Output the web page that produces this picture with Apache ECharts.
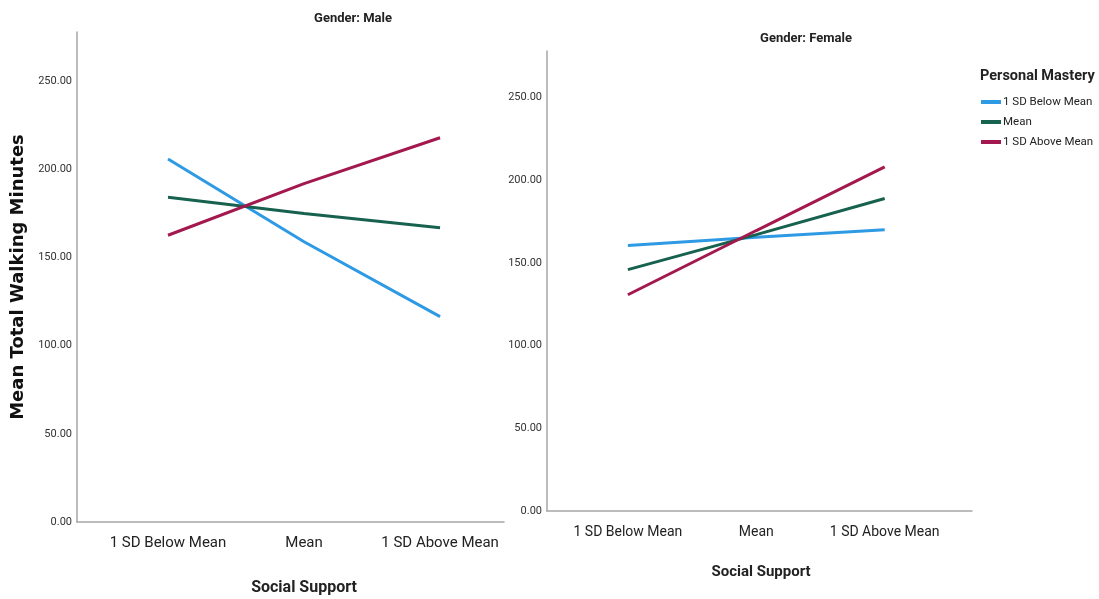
<!DOCTYPE html>
<html>
<head>
<meta charset="utf-8">
<script src="https://cdn.jsdelivr.net/npm/echarts@6/dist/echarts.min.js"></script>
<style>
  html, body { margin: 0; padding: 0; background: #fff; }
  #chart { width: 1099px; height: 599px; }
</style>
</head>
<body>
<div id="chart"></div>
<script>
const categories = ["1 SD Below Mean", "Mean", "1 SD Above Mean"];
const seriesNames = ["1 SD Below Mean", "Mean", "1 SD Above Mean"];
const yTicks = [0, 50, 100, 150, 200, 250];

// male panel
const maleBelow = [206, 159, 116.5];
const maleMean = [184.3, 175, 166.9];
const maleAbove = [162.7, 192, 218];

// female panel
const femaleBelow = [160.4, 165.5, 170];
const femaleMean = [145.9, 167, 188.9];
const femaleAbove = [130.7, 169.5, 208];

const colors = ["#2e9ae4", "#17614f", "#a3194f"];
const font = "Roboto, 'Liberation Sans', sans-serif";
const axisColor = "#a6a6a6";

const chart = echarts.init(document.getElementById("chart"));

const toPoints = (vals) => vals.map((v, i) => [i, v]);

function xAxisFor(gridIndex, min, max, fontSize, margin) {
  return {
    type: "value",
    gridIndex,
    min,
    max,
    axisLine: { show: true, onZero: false, lineStyle: { color: axisColor, width: 1.5 } },
    axisTick: { show: false },
    splitLine: { show: false },
    axisLabel: {
      customValues: [0, 1, 2],
      formatter: (v) => categories[Math.round(v)],
      color: "#222",
      fontFamily: font,
      fontSize,
      margin,
    },
  };
}

function yAxisFor(gridIndex, withName) {
  return {
    type: "value",
    gridIndex,
    min: 0,
    max: 278,
    axisLine: { show: true, onZero: false, lineStyle: { color: axisColor, width: 1.5 } },
    axisTick: { show: false },
    splitLine: { show: false },
    axisLabel: {
      customValues: yTicks,
      formatter: (v) => v.toFixed(2),
      color: "#333",
      fontFamily: font,
      fontSize: 11,
      margin: 5,
    },
    name: withName ? "Mean Total Walking Minutes" : "",
    nameLocation: "middle",
    nameRotate: 90,
    nameGap: 50,
    nameTextStyle: {
      fontFamily: "'DejaVu Sans', sans-serif",
      fontWeight: "bold",
      fontSize: 18,
      color: "#111",
    },
  };
}

function lineSeries(name, data, idx, axisIndex) {
  return {
    name,
    type: "line",
    xAxisIndex: axisIndex,
    yAxisIndex: axisIndex,
    data: toPoints(data),
    symbol: "none",
    lineStyle: { color: colors[idx], width: 3 },
    itemStyle: { color: colors[idx] },
  };
}

const titleStyle = (size) => ({ fontFamily: font, fontWeight: "bold", fontSize: size, color: "#222" });

const option = {
  animation: false,
  backgroundColor: "#fff",
  title: [
    { text: "Gender: Male", left: 353, top: 12, padding: 0, textAlign: "center", textStyle: titleStyle(13) },
    { text: "Gender: Female", left: 806, top: 32, padding: 0, textAlign: "center", textStyle: titleStyle(13) },
    { text: "Social Support", left: 304, top: 580, padding: 0, textAlign: "center", textStyle: titleStyle(16) },
    { text: "Social Support", left: 761, top: 565, padding: 0, textAlign: "center", textStyle: titleStyle(15) },
    { text: "Personal Mastery", left: 980, top: 69, padding: 0, textStyle: titleStyle(14.5) },
  ],
  legend: {
    data: seriesNames,
    orient: "vertical",
    left: 981,
    top: 96,
    padding: 0,
    itemWidth: 20,
    itemHeight: 4,
    itemGap: 8,
    icon: "rect",
    textStyle: { fontFamily: font, fontSize: 11.5, color: "#222", padding: [0, 0, 0, -3] },
  },
  grid: [
    { left: 77, top: 32, right: 1099 - 504, bottom: 599 - 522 },
    { left: 547, top: 51, right: 1099 - 972, bottom: 599 - 511 },
  ],
  xAxis: [
    xAxisFor(0, -0.669, 2.47, 15, 14),
    xAxisFor(1, -0.63, 2.68, 14, 14),
  ],
  yAxis: [yAxisFor(0, true), yAxisFor(1, false)],
  series: [
    lineSeries(seriesNames[0], maleBelow, 0, 0),
    lineSeries(seriesNames[1], maleMean, 1, 0),
    lineSeries(seriesNames[2], maleAbove, 2, 0),
    lineSeries(seriesNames[0], femaleBelow, 0, 1),
    lineSeries(seriesNames[1], femaleMean, 1, 1),
    lineSeries(seriesNames[2], femaleAbove, 2, 1),
  ],
};

chart.setOption(option);
window.addEventListener("resize", () => chart.resize());
</script>
</body>
</html>
